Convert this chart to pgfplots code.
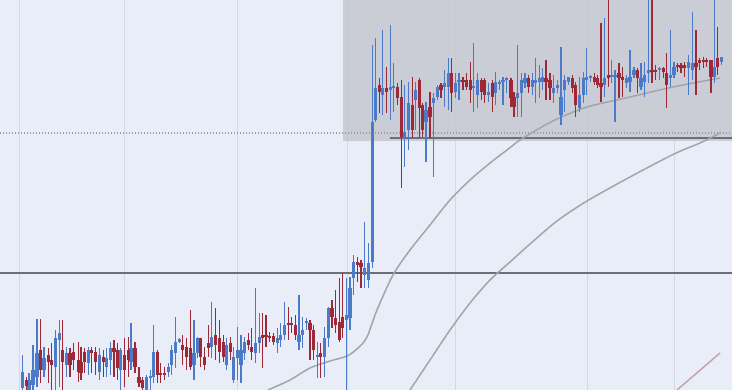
\documentclass[border=0pt]{standalone}
\usepackage{pgfplots}
\usepackage{pgfplotstable}
\pgfplotsset{compat=1.18}
\definecolor{bg}{HTML}{E9EDF7}
\definecolor{gridc}{HTML}{D3D8E3}
\definecolor{boxc}{HTML}{C6C9D1}
\definecolor{hline}{HTML}{6C6F79}
\definecolor{dotc}{HTML}{9A9DA6}
\definecolor{mac}{HTML}{A2A6A8}
\definecolor{mared}{HTML}{C9A3AC}
\definecolor{cblue}{HTML}{4A7AC8}
\definecolor{cred}{HTML}{9E2838}

% x, wick top (hi), wick bottom (lo), body top, body bottom -- pixel rows
\pgfplotstableread{
x hi lo bt bb
22.7 355 390 372 388
29 373 390 380 390
33 345 390 370 385
37 319 387 353 377
44 347 377 358 370
55.7 330 390 338 367
59.3 320 387 333 340
66.7 347 377 353 365
88.3 347 375 350 363
99.3 348 380 355 372
106.7 348 377 358 367
110.7 342 375 348 360
120.7 348 390 350 370
131 323 370 348 362
146.7 375 390 377 390
150.7 370 390 376 378
153.7 325 383 352 377
168.3 363 377 367 372
171.7 345 375 350 365
175.7 317 368 342 353
179.3 338 343 339 342
194 320 380 353 365
197.3 337 358 338 353
211.7 302 358 337 347
226.7 338 370 345 365
233.7 347 383 357 380
237.3 327 380 350 358
241 335 383 350 365
244.3 337 360 342 353
255.3 288 363 343 353
259.3 313 353 337 343
277.3 328 353 338 343
280.7 323 347 335 340
284.3 302 340 325 335
299 295 350 335 342
302.7 317 348 330 335
306.7 318 330 321 323
317.3 342 378 355 357
324.3 327 377 338 357
328.3 307 347 308 338
346.7 278 390 315 320
350 277 330 288 318
353.3 255 295 262 278
364.3 222 288 268 275
368.3 243 288 263 280
372.3 45 268 122 262
375.3 38 122 88 120
382.3 30 115 88 95
390.7 25 120 87 90
393.3 63 112 86 88
404.7 85 167 132 138
408.3 82 150 103 130
415.7 82 130 90 100
426 102 162 110 122
433.3 93 177 98 103
437.3 85 100 87 97
444.3 70 107 83 87
448.3 58 110 73 87
455.7 73 98 83 92
459 73 100 80 82
473.7 43 112 86 88
477.3 73 108 80 95
488.3 83 102 92 95
495.7 72 105 82 93
499.3 80 90 82 84
503 77 105 80 82
506.7 77 93 78 80
517.7 45 117 93 98
521.7 73 117 80 93
525 73 88 78 83
532.3 73 95 80 87
535.7 58 103 80 83
539.3 65 98 78 82
542.7 68 90 77 82
553.3 75 103 88 93
557.3 80 93 85 88
561 47 125 97 115
564.3 75 112 80 90
568.3 77 85 77 82
579.3 77 112 95 108
583.3 72 103 78 95
586.3 48 95 77 80
590.7 75 82 76 78
604.3 18 97 78 85
611.7 60 83 75 77
615 70 122 75 77
626.7 75 88 78 83
630 50 92 77 82
634 67 78 70 75
641 63 90 78 87
644.3 62 97 75 82
648.3 0 83 70 73
659.3 67 80 68 70
670.3 30 87 75 78
674 62 78 67 75
688.3 55 95 62 68
692.7 12 80 63 70
714.3 0 83 67 77
721.7 57 65 57 62
}\upcandles

\pgfplotstableread{
x hi lo bt bb
26.7 377 390 380 386
40.7 319 383 350 370
48.3 348 383 355 362
51.7 343 390 360 365
62.3 320 390 350 362
70 348 377 353 365
73.3 343 370 352 360
78.3 342 382 360 372
81 347 380 362 373
84.3 348 373 352 362
91.7 347 373 350 353
95.3 347 375 352 362
103.3 350 377 357 362
114 340 377 348 352
117.7 343 380 350 368
124.3 338 387 355 370
128.3 337 377 350 360
135 342 373 348 367
139 367 387 377 383
142.3 377 390 380 388
157.3 350 383 352 375
160.3 363 383 373 375
164.3 367 380 373 375
182.7 335 365 345 350
186.7 338 370 347 357
190.3 310 370 348 367
200.7 338 367 338 357
204.3 347 370 357 365
208.3 325 357 343 348
215.7 308 360 335 345
219.3 320 363 338 352
223.3 335 362 342 357
230.7 337 360 343 352
248.3 333 350 340 345
251.7 328 360 347 352
262.3 313 368 335 338
266 315 347 335 337
269.3 332 342 336 338
273.3 333 345 336 342
288.3 307 340 323 325
291.7 317 333 323 325
295.3 315 340 325 335
310 320 360 323 330
313.3 325 360 330 350
320.7 343 378 353 357
332 300 328 308 317
335.3 290 333 318 325
339.3 278 342 322 340
342.3 273 338 317 328
357.3 257 282 262 265
361 260 288 263 267
379.3 78 113 85 92
386.7 67 113 88 92
397.7 83 105 87 98
401.3 80 188 97 137
412.3 77 138 105 130
419.3 78 138 80 108
422.3 103 137 105 130
430 92 138 107 117
441 83 98 85 90
451.7 58 112 73 93
463 77 90 80 82
466.7 73 90 80 87
470.3 62 103 80 90
481.3 78 100 80 92
484.3 78 103 80 95
492.3 80 112 83 97
511 78 107 80 98
514 92 117 97 107
528.3 75 93 78 87
546 60 100 78 82
550 73 100 80 88
572.3 75 93 78 88
575.7 82 117 85 105
594.3 73 85 77 82
597.3 75 88 78 85
601 23 102 83 87
608.3 0 87 75 78
619 63 98 73 78
622.7 67 97 77 80
637.3 68 93 70 78
652 0 83 70 72
655.7 65 80 70 72
663.3 67 78 68 72
666.3 53 108 73 85
677.7 63 72 65 67
681 63 73 65 68
684.3 62 77 65 68
696 30 95 63 67
699.3 58 70 60 63
703.3 57 68 60 62
706.7 58 67 60 62
711 60 93 60 77
717.7 27 75 58 67
}\downcandles

\begin{document}
\begin{tikzpicture}
\begin{axis}[
  width=366pt, height=195pt, scale only axis,
  xmin=0, xmax=732, ymin=0, ymax=390, y dir=reverse,
  axis line style={draw=none},
  xtick=\empty, ytick=\empty,
  axis background/.style={fill=bg},
  clip=true,
]
% vertical grid
\foreach \g in {19,124,237,347,455,587,674}{
  \edef\tmp{\noexpand\addplot[gridc, line width=0.5pt, forget plot] coordinates {(\g,0) (\g,390)};}
  \tmp
}
% highlighted zone
\addplot[fill=boxc, fill opacity=0.88, draw=none] coordinates {(343,0) (732,0) (732,141) (343,141)} -- cycle;
% dotted level
\addplot[dotc, line width=0.6pt, dash pattern=on 0.5pt off 1pt] coordinates {(0,133) (732,133)};
% solid levels
\addplot[hline, line width=1pt] coordinates {(0,273) (732,273)};
\addplot[hline, line width=1pt] coordinates {(390,138) (732,138)};
% moving averages
\addplot[mac, line width=0.75pt, smooth] coordinates {
(268,390) (290,380) (310,368) (330,361) (347,356) (358,348) (367,337) (377,310) (393,275) (410,250) (430,225) (450,200) (470,180) (490,163) (507,150) (520,140) (540,128) (557,119) (587,107) (630,97) (673,87) (720,78)};
\addplot[mac, line width=0.75pt, smooth] coordinates {
(410,390) (430,360) (450,330) (470,303) (490,280) (510,262) (530,244) (557,221) (587,201) (630,177) (674,154) (700,143) (720,133)};
\addplot[mared, line width=0.75pt] coordinates {(677,390) (720,353)};
% wicks
\addplot[draw=none, mark=none, error bars/.cd, y dir=plus, y explicit, error mark=none,
  error bar style={draw=cblue, line width=0.65pt}]
  table[x=x, y=hi, y error expr=\thisrow{lo}-\thisrow{hi}] {\upcandles};
\addplot[draw=none, mark=none, error bars/.cd, y dir=plus, y explicit, error mark=none,
  error bar style={draw=cred, line width=0.65pt}]
  table[x=x, y=hi, y error expr=\thisrow{lo}-\thisrow{hi}] {\downcandles};
% bodies
\addplot[draw=none, mark=none, error bars/.cd, y dir=plus, y explicit, error mark=none,
  error bar style={draw=cblue, line width=1.6pt}]
  table[x=x, y=bt, y error expr=\thisrow{bb}-\thisrow{bt}] {\upcandles};
\addplot[draw=none, mark=none, error bars/.cd, y dir=plus, y explicit, error mark=none,
  error bar style={draw=cred, line width=1.6pt}]
  table[x=x, y=bt, y error expr=\thisrow{bb}-\thisrow{bt}] {\downcandles};
\end{axis}
\end{tikzpicture}
\end{document}
